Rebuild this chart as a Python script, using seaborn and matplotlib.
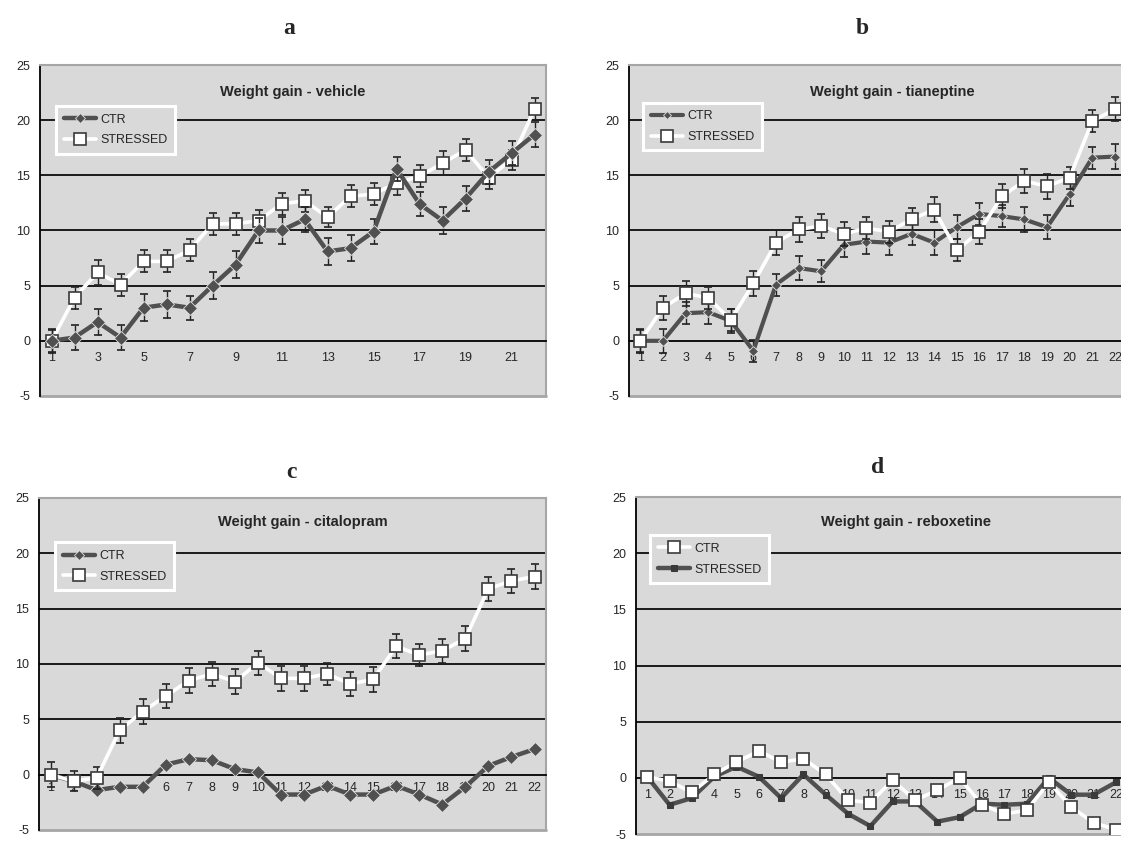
import matplotlib
matplotlib.use('Agg')
import matplotlib.pyplot as plt
import numpy as np
import pandas as pd
import seaborn as sns

sns.set_style('white')
plt.rcParams.update({'font.family'        : ['Liberation Sans', 'DejaVu Sans'],
                     'font.size'          : 9,
                     'xtick.labelsize'    : 9,
                     'ytick.labelsize'    : 9,
                     'axes.unicode_minus' : False})

days = list(range(1, 23))

# -- a : vehicle --
a_ctr     = [0, 0.3, 1.7, 0.3, 3.0, 3.3, 3.0, 5.0, 6.9, 10.0, 10.0, 11.0, 8.1, 8.4, 9.9, 15.6, 12.4, 10.9, 12.9, 15.3, 17.0, 18.7]
a_ctr_err = [1.0, 1.1, 1.2, 1.1, 1.2, 1.2, 1.1, 1.2, 1.2, 1.1, 1.2, 1.1, 1.2, 1.2, 1.1, 1.1, 1.1, 1.2, 1.1, 1.1, 1.1, 1.1]
a_str     = [0, 3.9, 6.2, 5.1, 7.2, 7.2, 8.2, 10.6, 10.6, 10.9, 12.4, 12.7, 11.2, 13.1, 13.3, 14.3, 14.9, 16.1, 17.3, 14.8, 16.4, 21.0]
a_str_err = [1.1, 1.0, 1.1, 1.0, 1.0, 1.0, 1.0, 1.0, 1.0, 1.0, 1.0, 1.0, 0.9, 1.0, 1.0, 1.1, 1.0, 1.1, 1.0, 1.0, 0.9, 1.0]

# -- b : tianeptine --
b_ctr     = [0, 0, 2.5, 2.6, 1.8, -0.9, 5.1, 6.6, 6.3, 8.7, 9.0, 8.9, 9.7, 8.9, 10.3, 11.5, 11.3, 11.0, 10.3, 13.3, 16.6, 16.7]
b_ctr_err = [1.0, 1.1, 1.0, 1.1, 1.1, 1.0, 1.0, 1.1, 1.0, 1.1, 1.1, 1.1, 1.0, 1.1, 1.1, 1.0, 1.0, 1.1, 1.1, 1.1, 1.0, 1.1]
b_str     = [0, 3.0, 4.3, 3.9, 1.9, 5.2, 8.9, 10.1, 10.4, 9.7, 10.2, 9.9, 11.0, 11.9, 8.2, 9.9, 13.1, 14.5, 14.0, 14.8, 19.9, 21.0]
b_str_err = [1.1, 1.1, 1.1, 1.0, 1.0, 1.1, 1.1, 1.1, 1.1, 1.1, 1.0, 1.0, 1.0, 1.1, 1.0, 1.1, 1.1, 1.1, 1.1, 1.0, 1.0, 1.1]

# -- c : citalopram --
c_ctr     = [0, -0.6, -1.4, -1.1, -1.1, 0.9, 1.4, 1.3, 0.5, 0.2, -1.8, -1.8, -1.0, -1.8, -1.8, -1.0, -1.8, -2.7, -1.1, 0.8, 1.6, 2.3]
c_str     = [0, -0.6, -0.3, 4.0, 5.7, 7.1, 8.5, 9.1, 8.4, 10.1, 8.7, 8.7, 9.1, 8.2, 8.6, 11.6, 10.8, 11.2, 12.3, 16.8, 17.5, 17.9]
c_str_err = [1.1, 0.9, 1.0, 1.1, 1.1, 1.1, 1.1, 1.1, 1.1, 1.1, 1.1, 1.1, 1.0, 1.1, 1.1, 1.1, 1.0, 1.1, 1.1, 1.1, 1.1, 1.1]

# -- d : reboxetine --
d_ctr     = [0.1, -0.3, -1.3, 0.3, 1.4, 2.4, 1.4, 1.7, 0.3, -2.0, -2.2, -0.2, -2.0, -1.1, 0.0, -2.4, -3.2, -2.9, -0.4, -2.6, -4.0, -4.6]
d_str     = [0.1, -2.4, -1.8, 0.1, 1.0, 0.1, -1.8, 0.3, -1.5, -3.2, -4.3, -2.1, -2.1, -3.9, -3.5, -2.3, -2.4, -2.3, 0.0, -1.5, -1.5, -0.4]

BG   = '#d9d9d9'
DARK = '#505050'
GREY = '#a6a6a6'

dark_diamond = dict(color=DARK, marker='D', markersize=7, markerfacecolor=DARK,
                    markeredgecolor='#e0e0e0', markeredgewidth=0.6, linewidth=3.2)
white_square = dict(color='white', marker='s', markersize=9, markerfacecolor='white',
                    markeredgecolor='#3a3a3a', markeredgewidth=1.2, linewidth=2.6)
dark_small_sq = dict(color=DARK, marker='s', markersize=4.5, markerfacecolor='#3a3a3a',
                     markeredgecolor='#3a3a3a', linewidth=3.2)


def setup_axes(ax, odd_only=False, xpad=7):
    ax.set_facecolor(BG)
    ax.set_xlim(0.5, 22.5)
    ax.set_ylim(-5, 25)
    ax.set_yticks(range(-5, 30, 5))
    ax.set_yticklabels([str(v) for v in range(-5, 30, 5)])
    ax.set_xticks(days)
    ax.set_xticklabels([str(d) if (d % 2 or not odd_only) else '' for d in days])
    ax.set_xticks(np.arange(0.5, 23, 1), minor=True)
    ax.tick_params(axis='x', which='major', length=0, pad=xpad)
    ax.tick_params(axis='x', which='minor', length=4, width=1.2, direction='out', color='black')
    ax.tick_params(axis='y', length=4, width=1.2, direction='out', color='black', pad=3)
    ax.spines['bottom'].set_position(('data', 0))
    ax.spines['bottom'].set_color('black')
    ax.spines['bottom'].set_linewidth(1.3)
    ax.spines['left'].set_color('black')
    ax.spines['left'].set_linewidth(1.3)
    for s in ['top', 'right']:
        ax.spines[s].set_color(GREY)
        ax.spines[s].set_linewidth(1.5)
    ax.axhline(-5, color=GREY, lw=2, clip_on=False, zorder=0.5)
    for g in [5, 10, 15, 20]:
        ax.axhline(g, color='#1a1a1a', lw=1.4, zorder=1)
    ax.set_xlabel('')
    ax.set_ylabel('')


def add_legend(ax, anchor, order=(0, 1), sizes=(5, 8)):
    h, l = ax.get_legend_handles_labels()
    h = [h[i] for i in order]
    l = [l[i] for i in order]
    leg = ax.legend(h, l, loc='upper left', bbox_to_anchor=anchor, frameon=True, fancybox=False,
                    facecolor=BG, edgecolor='white', framealpha=1, handlelength=2.6,
                    numpoints=1, fontsize=9, borderpad=0.6, labelspacing=0.7,
                    handletextpad=0.3)
    leg.get_frame().set_linewidth(2.2)
    for line, ms in zip(leg.get_lines(), sizes):
        line.set_markersize(ms)


fig = plt.figure(figsize=(11.21, 8.42), dpi=100)
ax_a = fig.add_axes([0.0357, 0.5297, 0.4514, 0.3931])
ax_b = fig.add_axes([0.5612, 0.5297, 0.4434, 0.3931])
ax_c = fig.add_axes([0.0348, 0.0143, 0.4523, 0.3943])
ax_d = fig.add_axes([0.5674, 0.0095, 0.4380, 0.4002])

# -- a --
df = pd.DataFrame({'day': days, 'CTR': a_ctr, 'STRESSED': a_str})
ax_a.errorbar(days, a_str, yerr=a_str_err, fmt='none', ecolor='#222222', elinewidth=1, capsize=3, capthick=1.2, zorder=3)
sns.lineplot(data=df, x='day', y='STRESSED', ax=ax_a, label='STRESSED', zorder=4, **white_square)
ax_a.errorbar(days, a_ctr, yerr=a_ctr_err, fmt='none', ecolor='#222222', elinewidth=1, capsize=3, capthick=1.2, zorder=5)
sns.lineplot(data=df, x='day', y='CTR', ax=ax_a, label='CTR', zorder=6, **dark_diamond)
setup_axes(ax_a, odd_only=True, xpad=8)
add_legend(ax_a, (0.02, 0.895), order=(1, 0), sizes=(5, 8))
ax_a.text(0.5, 0.918, 'Weight gain - vehicle', transform=ax_a.transAxes, ha='center', va='center',
          fontsize=10.5, fontweight='bold')

# -- b --
df = pd.DataFrame({'day': days, 'CTR': b_ctr, 'STRESSED': b_str})
ax_b.errorbar(days, b_ctr, yerr=b_ctr_err, fmt='none', ecolor='#222222', elinewidth=1, capsize=3, capthick=1.2, zorder=3)
sns.lineplot(data=df, x='day', y='CTR', ax=ax_b, label='CTR', zorder=4, **dict(dark_diamond, markersize=5.5, linewidth=3))
ax_b.errorbar(days, b_str, yerr=b_str_err, fmt='none', ecolor='#222222', elinewidth=1, capsize=3, capthick=1.2, zorder=5)
sns.lineplot(data=df, x='day', y='STRESSED', ax=ax_b, label='STRESSED', zorder=6, **white_square)
setup_axes(ax_b, xpad=8)
add_legend(ax_b, (0.016, 0.905), sizes=(4, 8))
ax_b.text(0.53, 0.918, 'Weight gain - tianeptine', transform=ax_b.transAxes, ha='center', va='center',
          fontsize=10.5, fontweight='bold')

# -- c --
df = pd.DataFrame({'day': days, 'CTR': c_ctr, 'STRESSED': c_str})
sns.lineplot(data=df, x='day', y='CTR', ax=ax_c, label='CTR', zorder=4, **dark_diamond)
ax_c.errorbar(days, c_str, yerr=c_str_err, fmt='none', ecolor='#222222', elinewidth=1, capsize=3, capthick=1.2, zorder=5)
sns.lineplot(data=df, x='day', y='STRESSED', ax=ax_c, label='STRESSED', zorder=6, **white_square)
setup_axes(ax_c, xpad=5)
add_legend(ax_c, (0.02, 0.885), sizes=(5, 8))
ax_c.text(0.52, 0.928, 'Weight gain - citalopram', transform=ax_c.transAxes, ha='center', va='center',
          fontsize=10.5, fontweight='bold')

# -- d --
df = pd.DataFrame({'day': days, 'CTR': d_ctr, 'STRESSED': d_str})
sns.lineplot(data=df, x='day', y='STRESSED', ax=ax_d, label='STRESSED', zorder=4, **dark_small_sq)
sns.lineplot(data=df, x='day', y='CTR', ax=ax_d, label='CTR', zorder=5, **white_square)
setup_axes(ax_d, xpad=8)
add_legend(ax_d, (0.016, 0.905), order=(1, 0), sizes=(8, 4.5))
ax_d.text(0.55, 0.926, 'Weight gain - reboxetine', transform=ax_d.transAxes, ha='center', va='center',
          fontsize=10.5, fontweight='bold')

# -- panel letters --
for letter, x, y in [('a', 289, 29), ('b', 862, 29), ('c', 291, 472), ('d', 878, 468)]:
    fig.text(x / 1121, 1 - y / 842, letter, family='Liberation Serif', fontweight='bold',
             fontsize=17, ha='center', va='center')

plt.savefig('out.png', dpi=100)
